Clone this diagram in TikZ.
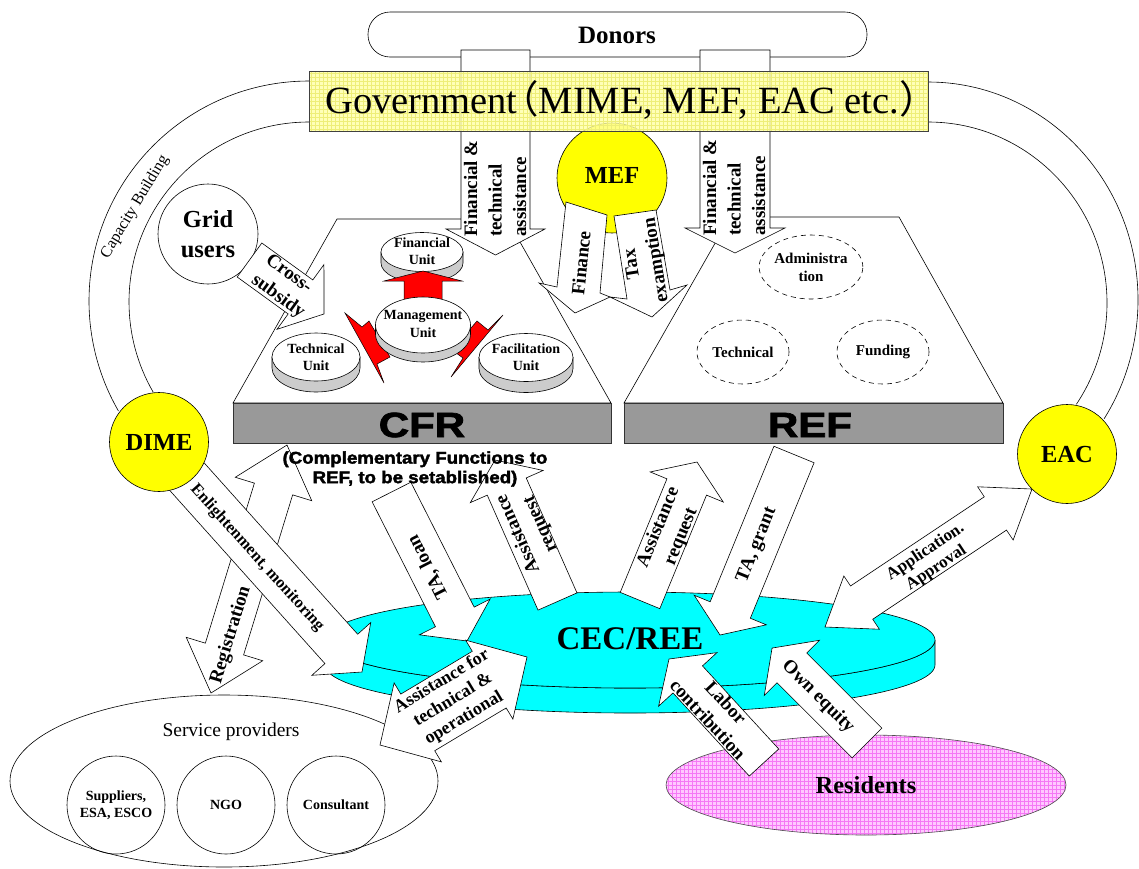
\documentclass[tikz,border=0pt]{standalone}
\usepackage{fontspec}
\setmainfont{Liberation Serif}
\newfontfamily\heavy[FakeBold=2]{Liberation Sans}
\newfontfamily\cjk{Noto Sans CJK SC}
\usetikzlibrary{shapes.geometric}
\definecolor{govfill}{RGB}{255,255,165}
\definecolor{govgrid}{RGB}{238,238,120}
\definecolor{barfill}{RGB}{153,153,153}
\definecolor{diskside}{RGB}{204,204,204}
\definecolor{resfill}{RGB}{255,200,255}
\definecolor{resgrid}{RGB}{245,120,245}
\definecolor{pcyan}{RGB}{0,255,255}
\definecolor{pyellow}{RGB}{255,255,0}
\definecolor{pred}{RGB}{255,0,0}
\newcommand\sarrow[8][]{%
  \pgfmathsetmacro\arA{atan2((#3)-(#5),(#4)-(#2))}%
  \pgfmathsetmacro\arL{veclen((#4)-(#2),(#5)-(#3))}%
  \pgfmathsetmacro\arB{\arL-(#8)}%
  \draw[blk,#1,shift={(#2,#3)},rotate=\arA] (0,-#6) -- (\arB,-#6) -- (\arB,-#7) -- (\arL,0) -- (\arB,#7) -- (\arB,#6) -- (0,#6) -- cycle;}
\newcommand\darrow[8][]{%
  \pgfmathsetmacro\arA{atan2((#3)-(#5),(#4)-(#2))}%
  \pgfmathsetmacro\arL{veclen((#4)-(#2),(#5)-(#3))}%
  \pgfmathsetmacro\arB{\arL-(#8)}%
  \draw[blk,#1,shift={(#2,#3)},rotate=\arA] (0,0) -- (#8,-#7) -- (#8,-#6) -- (\arB,-#6) -- (\arB,-#7) -- (\arL,0) -- (\arB,#7) -- (\arB,#6) -- (#8,#6) -- (#8,#7) -- cycle;}
\newcommand\udisk[5]{%
  \filldraw[fill=diskside, line width=0.6pt] (#1-#3,#2) -- (#1-#3,#2+#5) arc[start angle=180,end angle=0,x radius=#3,y radius=#4] -- (#1+#3,#2) -- cycle;
  \filldraw[fill=white, line width=0.6pt] (#1,#2) ellipse[x radius=#3, y radius=#4];}
\begin{document}
\begin{tikzpicture}[x=1pt,y=-1pt,line join=miter,
  blk/.style={draw=black, fill=white, line width=0.6pt},
  thinline/.style={draw=black, line width=0.6pt},
  lab/.style={font=\bfseries\fontsize{19}{24.5}\selectfont, align=center, inner sep=0pt},
  unitlab/.style={font=\bfseries\fontsize{14}{17.5}\selectfont, align=center, inner sep=0pt},
  yc/.style={circle, draw, fill=pyellow, line width=0.6pt, minimum size=99pt, inner sep=0pt, font=\bfseries\fontsize{24.5}{28}\selectfont},
  dashell/.style={draw, ellipse, dash pattern=on 5pt off 4pt, line width=0.6pt, minimum width=92pt, minimum height=64pt, inner sep=0pt, font=\bfseries\fontsize{15}{18}\selectfont, align=center},
  spc/.style={circle, draw, line width=0.6pt, minimum size=98pt, inner sep=0pt, font=\bfseries\fontsize{14}{17}\selectfont, align=center},
  redarrow/.style={fill=pred, draw=black, line width=0.5pt}]
\useasboundingbox (0,0) rectangle (1139,868);

% capacity building arcs
\draw[thinline] (309,81) arc[start angle=270,end angle=150,radius=220];
\draw[thinline] (309,122) arc[start angle=270,end angle=150,radius=180];
\draw[thinline] (928,82) arc[start angle=-90,end angle=33,x radius=210,y radius=218];
\draw[thinline] (928,122) arc[start angle=-90,end angle=34,x radius=179,y radius=181];
\node[font=\fontsize{16}{19}\selectfont, rotate=59, inner sep=0pt] (cap) at (135,207) {Capacity Building};

% donors
\draw[thinline, rounded corners=22pt] (368,12) rectangle (867,57);
\node[font=\bfseries\fontsize{25}{30}\selectfont, anchor=base, inner sep=0pt] (donors) at (617,43) {Donors};

% trapezoids
\draw[blk] (337,219) -- (507,219) -- (611,403) -- (233,403) -- cycle;
\draw[blk] (730,217) -- (899,217) -- (1003,403) -- (624,403) -- cycle;

% REF internal units
\node[dashell] (adm) at (811,267) {Administra\\tion};
\node[dashell] (tec) at (743,352) {Technical};
\node[dashell] (fnd) at (883,352) {Funding};

% CFR units
\udisk{316}{357}{44}{24}{11}
\udisk{526}{357.5}{47}{24}{11}
\udisk{422}{252}{41}{19.5}{11}
\filldraw[redarrow] (404,300) -- (404,281) -- (384,281) -- (423,271) -- (462,281) -- (442,281) -- (442,300) -- cycle;
\filldraw[redarrow] (345,313) -- (362,327) -- (369,321) -- (390,357) -- (377,364) -- (384,383) -- cycle;
\filldraw[redarrow] (503,315) -- (488,330) -- (477,321) -- (452,350) -- (463,358) -- (451,377) -- cycle;
\udisk{423}{325}{47.5}{28}{9}
\node[unitlab] (ufin) at (422,251) {Financial\\Unit};
\node[unitlab] (uman) at (423,324) {Management\\Unit};
\node[unitlab] (utec) at (316,357) {Technical\\Unit};
\node[unitlab] (ufac) at (526,357) {Facilitation\\Unit};

% MEF
\node[yc, minimum size=110pt] (mef) at (612,178) {};
\node[font=\bfseries\fontsize{24.5}{28}\selectfont, inner sep=0pt] (meft) at (612,175) {MEF};

% big assistance arrows
\sarrow{495.5}{50}{495.5}{255}{34.5}{49.5}{26}
\sarrow{735}{50}{735}{253}{35}{50}{25}

% finance / tax
\draw[blk] (566,202) -- (557,287) -- (539,283) -- (575,313) -- (610,297) -- (600,293) -- (607,215) -- cycle;
\draw[blk] (614,216) -- (627,299) -- (610,297) -- (652,317) -- (687,285) -- (670,290) -- (656,210) -- cycle;
\node[lab, rotate=84] (fint) at (581,263) {Finance};
\node[lab, rotate=99] (taxt) at (645,262) {Tax\\examption};

% government
\fill[govfill, opacity=0.8] (309,71) rectangle (928,131);
\begin{scope}
\clip (309,71) rectangle (928,131);
\foreach \gx in {311,315,...,927} {\draw[govgrid, line width=0.25pt] (\gx,71) -- (\gx,131);}
\foreach \gy in {73,77,...,131} {\draw[govgrid, line width=0.25pt] (309,\gy) -- (928,\gy);}
\end{scope}
\draw[draw=black!75, line width=0.6pt] (309,71) rectangle (928,131);
\node[anchor=base west, inner sep=0pt, font=\fontsize{38.5}{44}\selectfont] (govt) at (325,113) {Government\kern-.45em{\cjk （}MIME, MEF, EAC etc.{\cjk ）}};
\node[lab, rotate=90, anchor=west, align=left] (fta1) at (495,237) {Financial \&\\technical\\assistance};
\node[lab, rotate=90, anchor=west, align=left] (fta2) at (734,236) {Financial \&\\technical\\assistance};

% grid users
\node[circle, draw, line width=0.6pt, minimum size=100pt, inner sep=0pt, font=\bfseries\fontsize{24.5}{30}\selectfont, align=center] (grid) at (208,234) {Grid\\users};
\sarrow{249.5}{260}{324}{314}{21}{40}{29}
\node[lab, rotate=-36, align=left] (xsub) at (285,287) {Cross-\\subsidy};

% bars
\draw[fill=barfill, draw=black!80, line width=0.6pt] (233,403) rectangle (611,443);
\draw[fill=barfill, draw=black!80, line width=0.6pt] (624,403) rectangle (1003,443);
\node[font=\heavy\bfseries\fontsize{35}{40}\selectfont, xscale=1.2, inner sep=0pt] (cfr) at (422,425) {CFR};
\node[font=\heavy\bfseries\fontsize{35}{40}\selectfont, xscale=1.2, inner sep=0pt] (ref) at (810,425) {REF};

% CEC disk
\filldraw[fill=pcyan, line width=0.6pt] (325,640) -- (325,665) arc[start angle=180,end angle=0,x radius=305,y radius=48] -- (935,640) arc[start angle=0,end angle=180,x radius=305,y radius=48] -- cycle;
\filldraw[fill=pcyan, line width=0.6pt] (630,640) ellipse[x radius=305, y radius=48];

% service providers
\draw[thinline] (224,781) ellipse[x radius=214, y radius=86];
\node[font=\fontsize{19.5}{22}\selectfont, inner sep=0pt] (spt) at (231,732) {Service providers};
\node[spc] (sup) at (116,805) {Suppliers,\\ESA, ESCO};
\node[spc] (ngo) at (226,805) {NGO};
\node[spc] (con) at (336,805) {Consultant};

% residents
\fill[resfill] (866,785) ellipse[x radius=200, y radius=50];
\begin{scope}
\clip (866,785) ellipse[x radius=200, y radius=50];
\foreach \gx in {668,672,...,1066} {\draw[resgrid, line width=0.25pt] (\gx,733) -- (\gx,837);}
\foreach \gy in {737,741,...,835} {\draw[resgrid, line width=0.25pt] (664,\gy) -- (1068,\gy);}
\end{scope}
\draw[draw=black!70, line width=0.6pt] (866,785) ellipse[x radius=200, y radius=50];
\node[font=\bfseries\fontsize{24.5}{28}\selectfont, inner sep=0pt] (res) at (866,785) {Residents};

% lower arrows
\darrow{211}{693}{287}{445}{20}{40}{46}
\node[lab, rotate=73] (regt) at (231,635) {Registration};
\sarrow{181}{470}{362}{672}{22}{39.5}{31}
\node[lab, font=\bfseries\fontsize{16.5}{20}\selectfont, rotate=-48] (enl) at (257,558) {Enlightenment, monitoring};
\sarrow{391.5}{492}{467}{641}{21.7}{39.6}{27}
\node[lab, rotate=117] (tal) at (428,567) {TA, loan};
\sarrow{557.5}{601.5}{495}{460}{21.3}{39.8}{29}
\node[lab, rotate=114] (ar1) at (529.5,529) {Assistance\\request};
\sarrow{640}{600.5}{697}{462}{21.4}{39.5}{27}
\node[lab, rotate=67.7] (ar2) at (670,532) {Assistance\\request};
\sarrow{794}{454.5}{720}{635}{21.7}{39}{27}
\node[lab, rotate=68] (tag) at (757,545) {TA, grant};
\darrow{825}{627}{1032}{489}{20}{32}{44}
\node[lab, font=\bfseries\fontsize{17}{19.5}\selectfont, rotate=33.7] (app) at (931,560) {Application.\\Approval};
\sarrow{764}{762.5}{669}{659}{20}{39.6}{27.7}
\node[lab, rotate=-47] (labc) at (717,711) {Labor\\contribution};
\sarrow{867}{743}{772}{648}{21}{39}{28}
\node[lab, rotate=-45] (own) at (818,697) {Own equity};
\darrow{380}{745}{527}{657}{33}{46}{44}
\node[lab, font=\bfseries\fontsize{18}{21.5}\selectfont, rotate=31] (ast) at (453,700) {Assistance for\\technical \&\\operational};

\node[font=\bfseries\fontsize{33}{38}\selectfont, inner sep=0pt] (cec) at (630,639) {CEC/REE};

% DIME, EAC
\node[yc] (dime) at (159,442) {DIME};
\node[yc] (eac) at (1067,454) {EAC};

% CFR subtitle
\node[font=\heavy\bfseries\fontsize{17}{19.5}\selectfont, xscale=1.1, align=center, inner sep=0pt] (cfrsub) at (415,469) {(Complementary Functions to\\REF, to be setablished)};
\end{tikzpicture}
\end{document}
